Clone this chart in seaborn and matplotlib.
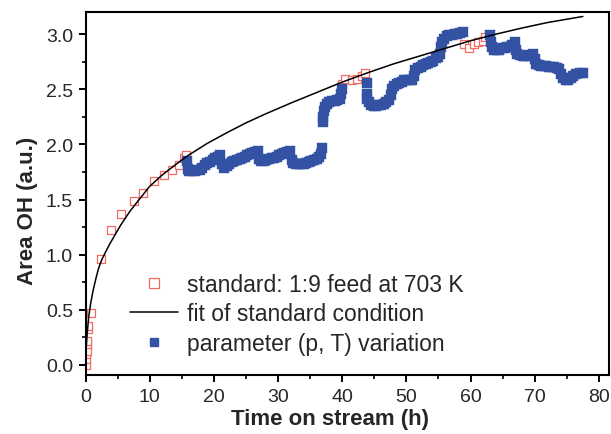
import matplotlib
matplotlib.use("Agg")
import matplotlib.pyplot as plt
from matplotlib.lines import Line2D
from matplotlib.ticker import MultipleLocator
import pandas as pd
import seaborn as sns

# Standard condition (1:9 feed at 703 K)
std_time = [0.0, 0.05, 0.1, 0.15, 0.2, 0.25, 0.4, 0.45, 0.8, 2.4, 3.95, 5.6, 7.5,
            9.0, 10.65, 12.2, 13.5, 14.5, 15.4, 15.65,
            39.9, 40.5, 41.5, 42.3, 43.1, 43.6,
            58.9, 59.7, 60.5, 61.2, 61.9, 62.2]
std_area = [0.0, 0.05, 0.1, 0.13, 0.19, 0.22, 0.33, 0.35, 0.47, 0.96, 1.22, 1.37, 1.49,
            1.56, 1.67, 1.72, 1.77, 1.815, 1.875, 1.90,
            2.55, 2.59, 2.58, 2.59, 2.62, 2.65,
            2.91, 2.87, 2.91, 2.93, 2.94, 2.97]

# Fitted curve of the standard condition
fit_time = [0, 0.1, 0.25, 0.5, 0.8, 1.2, 1.6, 2.0, 2.5, 3.0, 3.8, 4.5, 5.5, 7.0, 8.5,
            10, 12, 14, 16, 19, 22, 25, 28, 32, 36, 40, 44, 48, 52, 56, 60, 64,
            68, 72, 77.5]
fit_area = [0.0, 0.15, 0.28, 0.44, 0.56, 0.68, 0.78, 0.87, 0.95, 1.01, 1.10, 1.17,
            1.27, 1.40, 1.51, 1.62, 1.725, 1.815, 1.90, 2.01, 2.105, 2.195, 2.275,
            2.375, 2.47, 2.565, 2.65, 2.73, 2.80, 2.87, 2.94, 3.00, 3.055, 3.105,
            3.16]

# Runs with pressure / temperature variation
var_time = [15.8, 15.9, 16.2, 16.6, 17.0, 17.4, 17.8, 18.2, 18.6, 19.0, 19.4, 19.8,
            20.2, 20.6, 21.0, 21.3, 21.6, 22.0, 22.4, 22.8, 23.2, 23.6, 24.0, 24.4,
            24.8, 25.2, 25.6, 26.0, 26.4, 26.8, 27.1, 27.4, 27.8, 28.2, 28.6, 29.0,
            29.4, 29.8, 30.2, 30.6, 31.0, 31.4, 31.8, 32.1, 32.4, 32.8, 33.2, 33.6,
            34.0, 34.4, 34.8, 35.2, 35.6, 36.0, 36.4, 36.7, 36.9,
            37.0, 37.0, 37.1, 37.3, 37.6, 38.0, 38.4, 38.8, 39.2, 39.6, 39.8, 39.9,
            43.8, 43.8, 43.9, 44.1, 44.5, 44.9, 45.3, 45.7, 46.1, 46.5, 46.9, 47.3,
            47.6, 47.8, 48.1, 48.5, 48.9, 49.3, 49.7, 50.1, 50.5, 50.9, 51.2, 51.4,
            51.8, 52.2, 52.6, 53.0, 53.4, 53.8, 54.2, 54.6, 55.0, 55.3, 55.4, 55.6,
            55.9, 56.3, 56.7, 57.1, 57.5, 57.9, 58.3, 58.8,
            63.1, 63.2, 63.3, 63.7, 64.1, 64.5, 64.9, 65.3, 65.7, 66.1, 66.5, 66.9,
            67.1, 67.3, 67.7, 68.1, 68.5, 68.9, 69.3, 69.7, 70.0, 70.2, 70.6, 71.0,
            71.4, 71.8, 72.2, 72.6, 73.0, 73.4, 73.8, 74.1, 74.4, 74.8, 75.2, 75.6,
            76.0, 76.5, 77.0, 77.5]
var_area = [1.85, 1.78, 1.76, 1.76, 1.76, 1.77, 1.77, 1.79, 1.81, 1.83, 1.84, 1.86,
            1.88, 1.89, 1.90, 1.82, 1.79, 1.80, 1.82, 1.84, 1.85, 1.86, 1.87, 1.88,
            1.89, 1.90, 1.91, 1.92, 1.93, 1.94, 1.87, 1.85, 1.85, 1.86, 1.87, 1.88,
            1.88, 1.89, 1.90, 1.91, 1.92, 1.93, 1.94, 1.86, 1.83, 1.82, 1.82, 1.82,
            1.82, 1.83, 1.84, 1.85, 1.86, 1.87, 1.89, 1.91, 1.97,
            2.20, 2.25, 2.30, 2.34, 2.37, 2.38, 2.39, 2.39, 2.40, 2.41, 2.46, 2.50,
            2.56, 2.46, 2.41, 2.38, 2.36, 2.35, 2.35, 2.36, 2.36, 2.37, 2.38, 2.40,
            2.45, 2.50, 2.53, 2.55, 2.56, 2.57, 2.58, 2.58, 2.58, 2.58, 2.62, 2.67,
            2.69, 2.70, 2.72, 2.73, 2.74, 2.75, 2.76, 2.78, 2.79, 2.82, 2.88, 2.93,
            2.96, 2.98, 2.99, 2.99, 3.00, 3.00, 3.01, 3.02,
            2.99, 2.93, 2.88, 2.86, 2.86, 2.86, 2.87, 2.87, 2.88, 2.88, 2.90, 2.93,
            2.86, 2.82, 2.81, 2.80, 2.80, 2.80, 2.81, 2.82, 2.77, 2.73, 2.72, 2.71,
            2.71, 2.71, 2.70, 2.70, 2.70, 2.69, 2.68, 2.64, 2.60, 2.58, 2.58, 2.60,
            2.62, 2.64, 2.65, 2.65]

legend_labels = ["standard: 1:9 feed at 703 K",
                 "fit of standard condition",
                 "parameter (p, T) variation"]

RED = "#f26b63"
BLUE = "#3452a4"
TEXT = "#262626"

sns.set_theme(style="white")
plt.rcParams["font.family"] = ["Liberation Sans", "DejaVu Sans"]

std_df = pd.DataFrame({"time": std_time, "area": std_area})
fit_df = pd.DataFrame({"time": fit_time, "area": fit_area})
var_df = pd.DataFrame({"time": var_time, "area": var_area})

fig = plt.figure(figsize=(6.11, 4.35), dpi=100)
ax = fig.add_axes([0.140, 0.135, 0.857, 0.835])

sns.scatterplot(data=std_df, x="time", y="area", ax=ax, marker="s", s=36,
                facecolor="white", edgecolor=RED, linewidth=0.9, zorder=2)
sns.scatterplot(data=var_df, x="time", y="area", ax=ax, marker="s", s=50,
                color=BLUE, edgecolor=BLUE, linewidth=0.3, zorder=3)
sns.lineplot(data=fit_df, x="time", y="area", ax=ax, color="black",
             linewidth=1.1, estimator=None, sort=False, zorder=4)

ax.set_xlim(0, 81.6)
ax.set_ylim(-0.094, 3.2)
ax.xaxis.set_major_locator(MultipleLocator(10))
ax.xaxis.set_minor_locator(MultipleLocator(5))
ax.yaxis.set_major_locator(MultipleLocator(0.5))
ax.yaxis.set_minor_locator(MultipleLocator(0.25))
ax.yaxis.set_major_formatter(plt.FormatStrFormatter("%.1f"))

for side in ["left", "bottom", "top", "right"]:
    ax.spines[side].set_visible(True)
    ax.spines[side].set_color("black")
    ax.spines[side].set_linewidth(1.5)

ax.tick_params(axis="both", which="major", direction="out", length=5, width=1.4,
               colors="black", labelsize=14, labelcolor=TEXT,
               bottom=True, left=True, top=False, right=False, pad=4)
ax.tick_params(axis="both", which="minor", direction="out", length=3, width=1.2,
               colors="black", bottom=True, left=True, top=False, right=False)

ax.set_xlabel("Time on stream (h)", fontsize=16, fontweight="bold",
              color=TEXT, labelpad=2)
ax.set_ylabel("Area OH (a.u.)", fontsize=16, fontweight="bold",
              color=TEXT, labelpad=6)
ax.xaxis.label.set_x(0.466)
ax.yaxis.label.set_y(0.456)

handles = [
    Line2D([], [], linestyle="none", marker="s", markersize=7,
           markerfacecolor="white", markeredgecolor=RED, markeredgewidth=0.9),
    Line2D([], [], color="black", linewidth=1.1),
    Line2D([], [], linestyle="none", marker="s", markersize=5.5,
           markerfacecolor=BLUE, markeredgecolor=BLUE),
]
ax.legend(handles, legend_labels, loc="lower left", bbox_to_anchor=(0.045, 0.0),
          frameon=False, fontsize=16.5, handlelength=2.1, handletextpad=0.4,
          labelspacing=0.27, labelcolor=TEXT)

fig.savefig("out.png", dpi=100)
